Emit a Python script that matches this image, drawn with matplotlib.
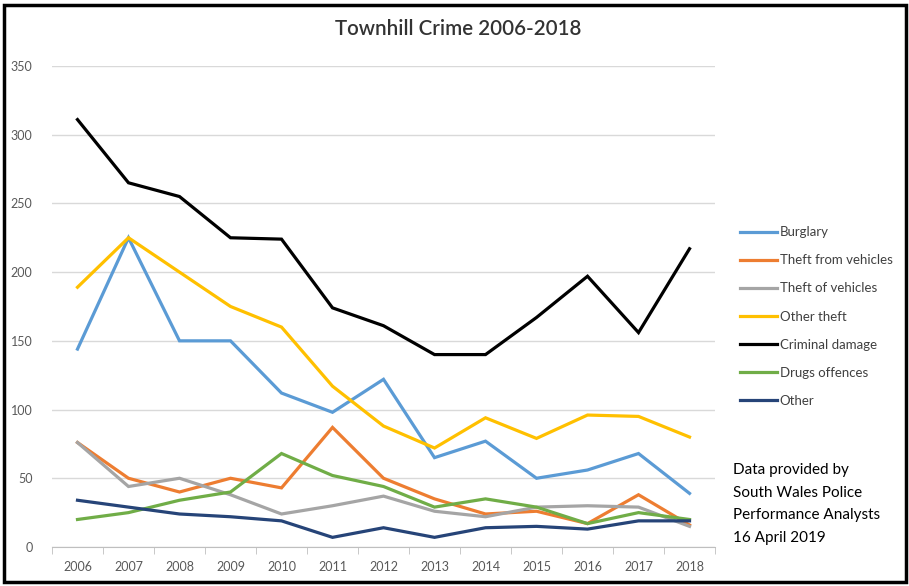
import numpy as np
import matplotlib.pyplot as plt
from matplotlib.patches import Rectangle

years = ['2006', '2007', '2008', '2009', '2010', '2011', '2012',
         '2013', '2014', '2015', '2016', '2017', '2018']

burglary = [144, 225, 150, 150, 112, 98, 122, 65, 77, 50, 56, 68, 39]
theft_from_vehicles = [76, 50, 40, 50, 43, 87, 50, 35, 24, 26, 17, 38, 16]
theft_of_vehicles = [76, 44, 50, 38, 24, 30, 37, 26, 22, 29, 30, 29, 15]
other_theft = [189, 225, 200, 175, 160, 117, 88, 72, 94, 79, 96, 95, 80]
criminal_damage = [311, 265, 255, 225, 224, 174, 161, 140, 140, 167, 197, 156, 217]
drugs_offences = [20, 25, 34, 40, 68, 52, 44, 29, 35, 29, 17, 25, 20]
other = [34, 29, 24, 22, 19, 7, 14, 7, 14, 15, 13, 19, 19]

series = [
    ('Burglary', burglary, '#5B9BD5'),
    ('Theft from vehicles', theft_from_vehicles, '#ED7D31'),
    ('Theft of vehicles', theft_of_vehicles, '#A5A5A5'),
    ('Other theft', other_theft, '#FFC000'),
    ('Criminal damage', criminal_damage, '#000000'),
    ('Drugs offences', drugs_offences, '#70AD47'),
    ('Other', other, '#264478'),
]

plt.rcParams['font.family'] = ['Lato', 'DejaVu Sans']

fig = plt.figure(figsize=(9.09, 5.86), dpi=100)
ax = fig.add_axes([0.0572, 0.0666, 0.7294, 0.8208])

x = np.arange(len(years))
for name, vals, col in series:
    ax.plot(x, vals, color=col, linewidth=2.3, label=name, solid_joinstyle='miter')

ax.set_xlim(-0.5, len(years) - 0.5)
ax.set_ylim(0, 350)
ax.set_yticks(np.arange(0, 351, 50))
ax.set_xticks(x)
ax.set_xticklabels(years)
ax.set_xticks(np.arange(-0.5, len(years), 1), minor=True)
ax.tick_params(axis='x', which='major', length=0, labelsize=9, colors='#595959', pad=10)
ax.tick_params(axis='x', which='minor', length=5, color='#BFBFBF', direction='out')
ax.tick_params(axis='y', length=0, labelsize=9, colors='#595959', pad=14)
ax.grid(axis='y', color='#D9D9D9', linewidth=1)
ax.set_axisbelow(True)
for s in ['top', 'right', 'left']:
    ax.spines[s].set_visible(False)
ax.spines['bottom'].set_color('#BFBFBF')

fig.suptitle('Townhill Crime 2006-2018', x=0.504, y=0.967, fontsize=14.8,
             color='#333333', fontweight='semibold')

leg = ax.legend(loc='center left', bbox_to_anchor=(1.02, 0.479), frameon=False,
                fontsize=9.5, handlelength=2.8, handletextpad=0.2,
                labelspacing=1.22, labelcolor='#404040')

fig.text(0.806, 1 - 463 / 586,
         'Data provided by\nSouth Wales Police\nPerformance Analysts\n16 April 2019',
         fontsize=11, color='black', linespacing=1.78, va='top', ha='left')

fig.patches.append(Rectangle((0.004, 0.006), 0.993, 0.986, transform=fig.transFigure,
                             fill=False, edgecolor='black', linewidth=2.5))

plt.savefig('out.png', dpi=100)
